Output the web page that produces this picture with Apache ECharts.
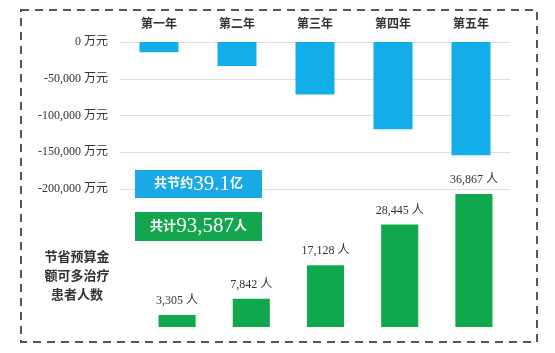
<!DOCTYPE html>
<html>
<head>
<meta charset="utf-8">
<script src="https://cdn.jsdelivr.net/npm/echarts@6/dist/echarts.min.js"></script>
<style>
  html, body { margin: 0; padding: 0; background: #fff; }
  #chart { width: 555px; height: 353px; }
</style>
</head>
<body>
<div id="chart"></div>
<script>
var years = ['第一年', '第二年', '第三年', '第四年', '第五年'];
var savings = [-13800, -32800, -71500, -118800, -154000];   // 万元
var patients = [3305, 7842, 17128, 28445, 36867];            // 人
var costTicks = [0, -50000, -100000, -150000, -200000];

var serif = "'Liberation Serif', 'Noto Sans CJK SC', serif";
var blue = '#12aeea';
var green = '#10a84d';

var dom = document.getElementById('chart');
var myChart = echarts.init(dom);

option = {
    backgroundColor: '#fff',
    animation: false,
    grid: [
        { left: 120, right: 45, top: 42, height: 147 },
        { left: 140, right: 44, bottom: 26, height: 144.3 }
    ],
    xAxis: [
        {
            gridIndex: 0,
            type: 'category',
            data: years,
            position: 'top',
            axisLine: { show: false },
            axisTick: { show: false },
            axisLabel: {
                margin: 11,
                fontFamily: serif,
                fontWeight: 'bold',
                fontSize: 12,
                color: '#333'
            }
        },
        {
            gridIndex: 1,
            type: 'category',
            data: years,
            show: false
        }
    ],
    yAxis: [
        {
            gridIndex: 0,
            type: 'value',
            min: -200000,
            max: 0,
            interval: 50000,
            axisLine: { show: false },
            axisTick: { show: false },
            splitLine: { lineStyle: { color: '#dedede' } },
            axisLabel: {
                margin: 12,
                fontFamily: serif,
                fontSize: 12,
                color: '#333',
                formatter: function (v) {
                    return v.toLocaleString('en-US') + ' 万元';
                }
            }
        },
        {
            gridIndex: 1,
            type: 'value',
            min: 0,
            max: 40000,
            show: false
        }
    ],
    series: [
        {
            type: 'bar',
            xAxisIndex: 0,
            yAxisIndex: 0,
            barWidth: '50%',
            itemStyle: { color: blue },
            data: savings
        },
        {
            type: 'bar',
            xAxisIndex: 1,
            yAxisIndex: 1,
            barWidth: '50%',
            itemStyle: { color: green },
            label: {
                show: true,
                position: 'top',
                distance: 8,
                fontFamily: serif,
                fontSize: 12,
                color: '#333',
                formatter: function (p) {
                    return p.value.toLocaleString('en-US') + ' 人';
                }
            },
            data: patients
        }
    ],
    graphic: [
        {
            type: 'rect',
            shape: { x: 21, y: 10, width: 516, height: 332 },
            style: { fill: 'none', stroke: '#555', lineWidth: 2, lineDash: [8, 6] },
            z: 10
        },
        {
            type: 'rect',
            shape: { x: 135, y: 170, width: 127, height: 28 },
            style: { fill: '#1aa9e6' },
            z: 20
        },
        {
            type: 'text',
            x: 198.5,
            y: 184,
            z: 21,
            style: {
                text: '{s|共节约}{b|39.1}{s|亿}',
                align: 'center',
                verticalAlign: 'middle',
                rich: {
                    s: { fontFamily: serif, fontSize: 13, fontWeight: 'bold', fill: '#fff' },
                    b: { fontFamily: serif, fontSize: 21, fill: '#fff' }
                }
            }
        },
        {
            type: 'rect',
            shape: { x: 135, y: 212, width: 127, height: 29 },
            style: { fill: '#13a64e' },
            z: 20
        },
        {
            type: 'text',
            x: 198.5,
            y: 226.5,
            z: 21,
            style: {
                text: '{s|共计}{b|93,587}{s|人}',
                align: 'center',
                verticalAlign: 'middle',
                rich: {
                    s: { fontFamily: serif, fontSize: 13, fontWeight: 'bold', fill: '#fff' },
                    b: { fontFamily: serif, fontSize: 21, fill: '#fff' }
                }
            }
        },
        {
            type: 'text',
            x: 77,
            y: 277,
            z: 21,
            style: {
                text: '节省预算金\n额可多治疗\n患者人数',
                align: 'center',
                verticalAlign: 'middle',
                lineHeight: 19,
                fontFamily: serif,
                fontSize: 13,
                fontWeight: 'bold',
                fill: '#333'
            }
        }
    ]
};
if (option && typeof option === "object") {
    myChart.setOption(option, true);
}
</script>
</body>
</html>
